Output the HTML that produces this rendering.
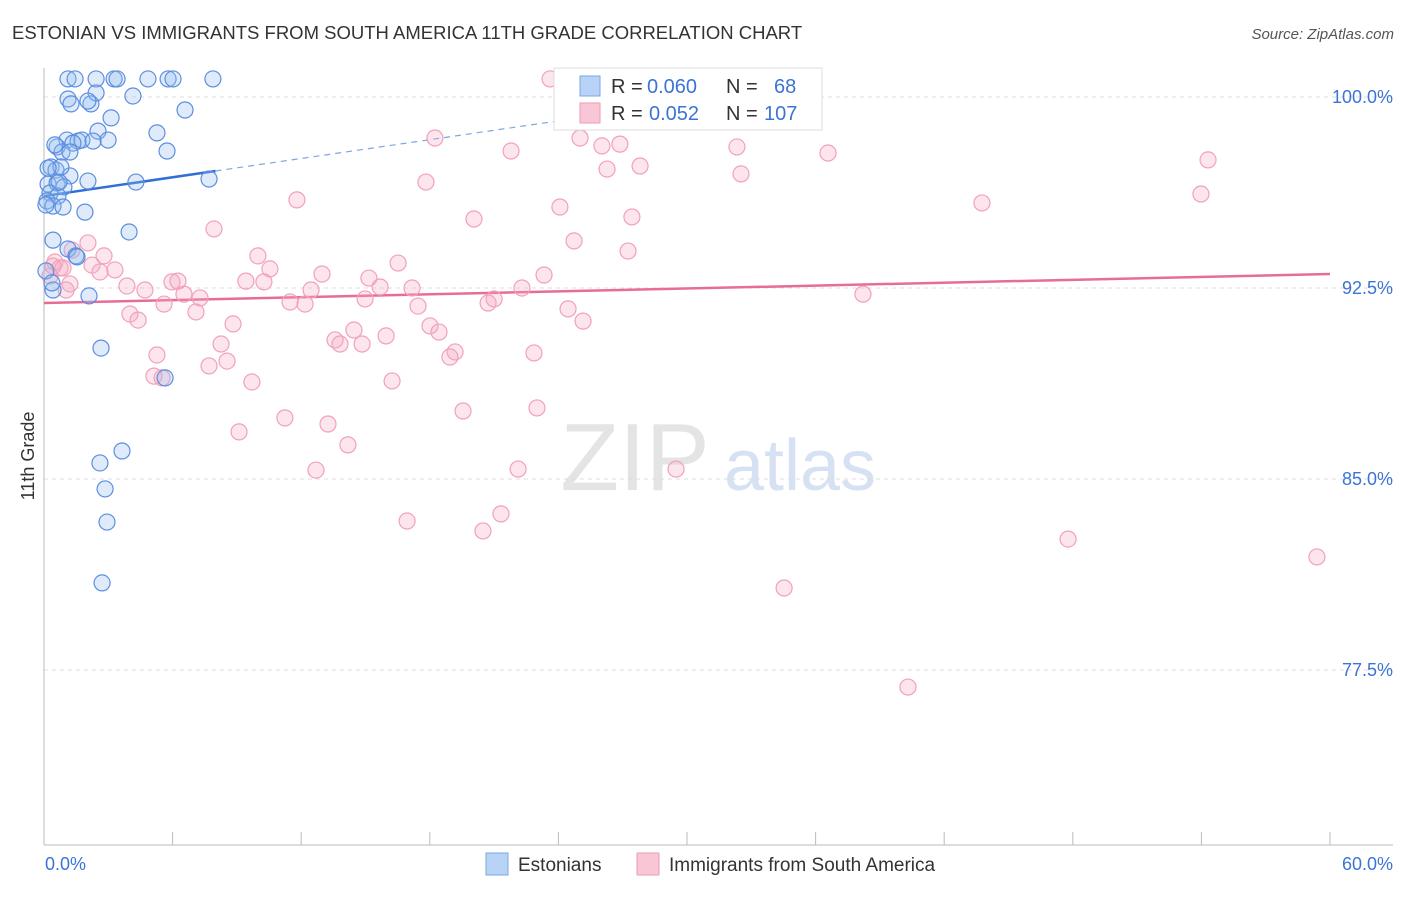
<!DOCTYPE html>
<html><head><meta charset="utf-8"><style>
body{margin:0;background:#fff;font-family:"Liberation Sans",sans-serif;}
svg text{font-family:"Liberation Sans",sans-serif;}
</style></head><body>
<svg id="chart" width="1406" height="892" xmlns="http://www.w3.org/2000/svg">
<text x="12" y="39" font-size="18.5" fill="#333">ESTONIAN VS IMMIGRANTS FROM SOUTH AMERICA 11TH GRADE CORRELATION CHART</text>
<text x="1394" y="39" font-size="15" fill="#555" font-style="italic" text-anchor="end">Source: ZipAtlas.com</text>
<text x="34" y="456" font-size="18" fill="#333" text-anchor="middle" transform="rotate(-90 34 456)">11th Grade</text>
<g><text x="635" y="490" font-size="96" fill="#e4e4e4" font-family="Liberation Serif" text-anchor="middle">ZIP</text><text x="800" y="490" font-size="72" fill="#d6e2f3" text-anchor="middle">atlas</text></g>
<g id="grid"></g><g id="axes"></g><g id="trend"></g><g id="pts"></g>
<g>
<rect x="554" y="68" width="268" height="62" fill="#fff" stroke="#ddd"/>
<rect x="580" y="76" width="20" height="20" fill="#b8d3f5" stroke="#7aa7e6"/>
<text x="611" y="93" font-size="20" fill="#333">R =</text>
<text x="647" y="93" font-size="20" fill="#3b74d6">0.060</text>
<text x="726" y="93" font-size="20" fill="#333">N =</text>
<text x="774" y="93" font-size="20" fill="#3b74d6">68</text>
<rect x="580" y="103" width="20" height="20" fill="#f9c6d6" stroke="#ee9ab6"/>
<text x="611" y="120" font-size="20" fill="#333">R =</text>
<text x="649" y="120" font-size="20" fill="#3b74d6">0.052</text>
<text x="726" y="120" font-size="20" fill="#333">N =</text>
<text x="764" y="120" font-size="20" fill="#3b74d6">107</text>
</g>
<g>
<rect x="486" y="853" width="22" height="22" fill="#b8d3f5" stroke="#7aa7e6"/>
<text x="518" y="871" font-size="19" fill="#333">Estonians</text>
<rect x="637" y="853" width="22" height="22" fill="#f9c6d6" stroke="#ee9ab6"/>
<text x="669" y="871" font-size="19" fill="#333">Immigrants from South America</text>
</g>
</svg>
<script>
const yTicks=[100,92.5,85,77.5];
const yTickLabels=["100.0%","92.5%","85.0%","77.5%"];
const xTickLabels=["0.0%","60.0%"];
const bluePx=[[68,79],[75,79],[96,79],[114,79],[117,79],[148,79],[168,79],[173,79],[213,79],[133,96],[68,99],[71,104],[91,104],[96,93],[88,101],[185,110],[111,118],[98,131],[157,133],[67,140],[78,141],[82,140],[93,141],[73,143],[57,147],[62,152],[70,152],[167,151],[51,167],[56,170],[70,176],[88,181],[136,182],[209,179],[48,184],[57,183],[64,187],[50,193],[58,196],[47,201],[53,206],[63,207],[85,212],[129,232],[53,240],[68,249],[76,256],[46,271],[53,290],[89,296],[101,348],[165,378],[122,451],[100,463],[105,489],[107,522],[102,583],[59,182],[46,205],[52,283],[77,257],[61,167],[108,140],[48,168],[55,145]];
const pinkPx=[[550,79],[801,80],[688,105],[727,113],[770,112],[435,138],[580,138],[602,146],[620,144],[511,151],[737,147],[828,153],[607,169],[640,166],[741,174],[1208,160],[426,182],[1201,194],[982,203],[297,200],[560,207],[474,219],[632,217],[214,229],[574,241],[628,251],[88,243],[104,256],[72,250],[55,262],[63,268],[92,265],[115,270],[258,256],[270,269],[322,274],[369,278],[398,263],[544,275],[50,276],[70,284],[100,272],[127,286],[145,290],[172,282],[178,281],[184,294],[200,298],[246,281],[264,282],[290,302],[305,304],[311,290],[365,299],[380,287],[412,288],[418,306],[488,303],[494,299],[522,288],[568,309],[583,321],[863,294],[130,314],[138,320],[164,304],[196,312],[233,324],[354,330],[335,340],[340,344],[362,344],[386,336],[430,326],[439,332],[455,352],[450,357],[534,353],[157,355],[221,344],[227,361],[209,366],[154,376],[162,378],[252,382],[392,381],[463,411],[537,408],[285,418],[328,424],[348,445],[239,432],[316,470],[518,469],[676,469],[407,521],[501,514],[483,531],[1068,539],[1317,557],[784,588],[908,687],[60,268],[53,266],[66,290]];
const blueX=bluePx.map(p=>+((p[0]-44)*60/1286).toFixed(2));
const blueY=bluePx.map(p=>+(100-(p[1]-97)*7.5/191).toFixed(2));
const pinkX=pinkPx.map(p=>+((p[0]-44)*60/1286).toFixed(2));
const pinkY=pinkPx.map(p=>+(100-(p[1]-97)*7.5/191).toFixed(2));
const blueTrend=[96.11,0.123];
const pinkTrend=[91.91,0.019];
const X=v=>44+v/60*1286, Y=v=>97+(100-v)/7.5*191;
const NS="http://www.w3.org/2000/svg";
function mk(tag,attrs,parent){const e=document.createElementNS(NS,tag);for(const k in attrs)e.setAttribute(k,attrs[k]);document.getElementById(parent).appendChild(e);return e;}
yTicks.forEach((t,i)=>{
 const l=mk('line',{x1:44,x2:1393,y1:Y(t),y2:Y(t),stroke:'#ddd','stroke-dasharray':'4,4'},'grid');
 
 
 const tx=mk('text',{x:1393,y:Y(t)+6,'font-size':18,fill:'#3b74d6','text-anchor':'end'},'grid');
 tx.textContent=yTickLabels[i];
 
 
});
const ax=mk('line',{x1:44,x2:1393,y1:845,y2:845,stroke:'#bbb'},'axes');


const ay=mk('line',{x1:44,x2:44,y1:68,y2:845,stroke:'#bbb'},'axes');


for(let i=0;i<=10;i++){const t=mk('line',{x1:X(i*6),x2:X(i*6),y1:832,y2:845,stroke:'#bbb'},'axes');
 
 }
[[0,'start',45],[60,'end',1393]].forEach((d,i)=>{const t=mk('text',{x:d[2],y:870,'font-size':18,fill:'#3b74d6','text-anchor':d[1]},'axes');t.textContent=xTickLabels[i];
 
 });
function pts(xs,ys,fill,stroke,name){xs.forEach((x,i)=>{const c=mk('circle',{cx:X(x),cy:Y(ys[i]),r:8,fill:fill,stroke:stroke,'stroke-width':1.2},'pts');
 
 });}
pts(pinkX,pinkY,'rgba(246,170,196,0.3)','#f2a0bb','point-immigrants');
pts(blueX,blueY,'rgba(150,190,240,0.3)','#5b8ee0','point-estonians');
const f=(t,x)=>t[0]+t[1]*x;
const b1=mk('line',{x1:X(0),y1:Y(f(blueTrend,0)),x2:X(8),y2:Y(f(blueTrend,8)),stroke:'#2f6fd6','stroke-width':2.5},'trend');


const b2=mk('line',{x1:X(8),y1:Y(f(blueTrend,8)),x2:X(24),y2:Y(f(blueTrend,24)),stroke:'#7aa7e6','stroke-width':1.2,'stroke-dasharray':'6,5'},'trend');


const p1=mk('line',{x1:X(0),y1:Y(f(pinkTrend,0)),x2:X(60),y2:Y(f(pinkTrend,60)),stroke:'#e86c98','stroke-width':2.5},'trend');


</script>
</body></html>
